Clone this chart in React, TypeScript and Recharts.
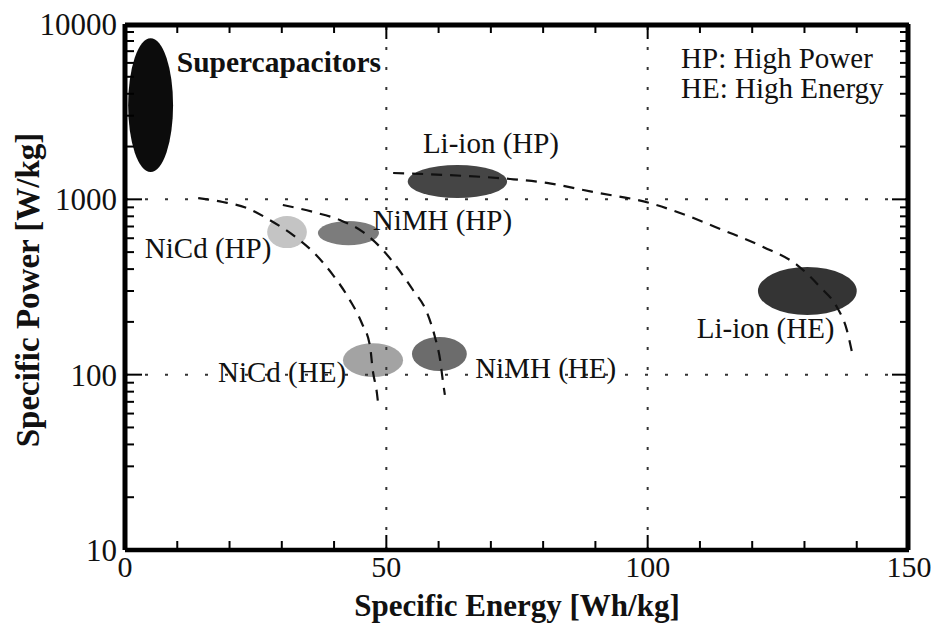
import {
  ComposedChart,
  Line,
  ReferenceArea,
  ReferenceDot,
  ReferenceLine,
  XAxis,
  YAxis
} from "recharts"

// Ragone plot: specific power vs specific energy of storage technologies.

const FONT = '"Liberation Serif", "Times New Roman", serif'
const INK = "#111"

// regions (ellipses) — energy in Wh/kg, power in W/kg
const cellNames = [
  "Supercapacitors",
  "NiCd (HP)",
  "NiMH (HP)",
  "Li-ion (HP)",
  "NiCd (HE)",
  "NiMH (HE)",
  "Li-ion (HE)"
]
const energyLow = [0.6, 27.2, 36.9, 54.1, 41.7, 54.9, 121.1]
const energyHigh = [9.2, 34.8, 48.6, 73.1, 53.2, 65.4, 140.0]
const powerLow = [1430, 527, 548, 1016, 97, 105, 219]
const powerHigh = [8300, 803, 752, 1571, 151, 164, 411]
const cellShades = ["#0c0c0c", "#c4c4c4", "#7c7c7c", "#454545", "#a3a3a3", "#6c6c6c", "#343434"]

// dashed trend curves
const nicdEnergy = [14.0, 18.7, 23.3, 27.7, 32.1, 36.0, 39.8, 43.0, 45.3, 46.9, 47.4, 48.2, 48.4]
const nicdPower = [1017, 966, 893, 762, 627, 501, 370, 267, 197, 144, 106, 78.5, 69.8]
const nimhEnergy = [30.2, 36.0, 41.1, 45.5, 48.8, 52.0, 55.1, 57.8, 59.3, 60.3, 60.8, 61.2]
const nimhPower = [929, 847, 762, 652, 535, 411, 304, 225, 164, 121, 93, 76.6]
const liionEnergy = [51.3, 61.6, 73.7, 80.7, 89.5, 100.4, 106.2, 114.4, 122.1, 128.6, 133.0, 136.2, 138.1, 139.1]
const liionPower = [1413, 1376, 1306, 1240, 1102, 953, 836, 668, 535, 422, 316, 243, 180, 134]

// text annotations (left edge, vertical centre) in data space
const noteText = [
  "Supercapacitors",
  "HP: High Power",
  "HE: High Energy",
  "Li-ion (HP)",
  "NiMH (HP)",
  "NiCd (HP)",
  "NiCd (HE)",
  "NiMH (HE)",
  "Li-ion (HE)"
]
const noteEnergy = [9.9, 106.4, 106.4, 57.0, 47.4, 3.8, 17.8, 67.0, 109.4]
const notePower = [6070, 6400, 4320, 2090, 762, 527, 103.5, 109, 185]

// axes
const xTicks = [0, 50, 100, 150]
const xMinorTicks = [10, 20, 30, 40, 60, 70, 80, 90, 110, 120, 130, 140]
const xMajorTicks = [50, 100]
const yTicks = [10, 100, 1000, 10000]
const yMinorTicks = [
  20, 30, 40, 50, 60, 70, 80, 90,
  200, 300, 400, 500, 600, 700, 800, 900,
  2000, 3000, 4000, 5000, 6000, 7000, 8000, 9000
]
const yMajorTicks = [100, 1000]

const toPoints = (xs: number[], ys: number[]) =>
  xs.map((energy, i) => ({ energy, power: ys[i] }))

const ellipseShape = (fill: string) => (props: any) => {
  const { x, y, width, height } = props
  return (
    <ellipse
      cx={x + width / 2}
      cy={y + height / 2}
      rx={Math.abs(width) / 2}
      ry={Math.abs(height) / 2}
      fill={fill}
    />
  )
}

const renderXTitle = (props: any) => {
  const vb = props.viewBox
  return (
    <text
      x={vb.x + vb.width / 2}
      y={vb.y + 66}
      textAnchor="middle"
      fontFamily={FONT}
      fontWeight="bold"
      fontSize={31}
      fill={INK}
    >
      Specific Energy [Wh/kg]
    </text>
  )
}

const renderYTitle = (props: any) => {
  const vb = props.viewBox
  const cx = vb.x + 27
  const cy = vb.y + vb.height / 2 + 3
  return (
    <text
      x={cx}
      y={cy}
      dy="0.35em"
      transform={`rotate(-90 ${cx} ${cy})`}
      textAnchor="middle"
      fontFamily={FONT}
      fontWeight="bold"
      fontSize={33}
      fill={INK}
    >
      Specific Power [W/kg]
    </text>
  )
}

const tickText = { fill: INK, fontSize: 30, fontFamily: FONT }
const frame = { stroke: "#000", strokeWidth: 5 }
const tickStroke = { stroke: "#000", strokeWidth: 2 }
const grid = { stroke: "#333", strokeWidth: 2, strokeDasharray: "3 17" }
const noLabel = () => <g />

export default function App() {
  return (
    <div style={{ position: "absolute", left: 0, top: 0, background: "#fff" }}>
      <ComposedChart
        width={934}
        height={623}
        margin={{ top: 24, right: 25, bottom: 0, left: 0 }}
      >
        {/* labelled axes */}
        <XAxis
          type="number"
          dataKey="energy"
          domain={[0, 150]}
          ticks={xTicks}
          interval={0}
          allowDataOverflow
          height={73}
          tickLine={false}
          tickSize={0}
          tickMargin={6}
          tick={tickText}
          axisLine={{ stroke: "#000", strokeWidth: 4.5 }}
          label={renderXTitle}
        />
        <YAxis
          type="number"
          scale="log"
          domain={[10, 10000]}
          ticks={yTicks}
          interval={0}
          allowDataOverflow
          width={125}
          tickLine={false}
          tickSize={0}
          tickMargin={8}
          tick={{ ...tickText, fontSize: 31 }}
          axisLine={frame}
          label={renderYTitle}
        />

        {/* inward tick marks and the rest of the frame */}
        <XAxis xAxisId="bMinor" dataKey="energy" type="number" domain={[0, 150]} allowDataOverflow
          ticks={xMinorTicks} interval={0} mirror height={1} tick={noLabel} tickSize={8}
          tickLine={tickStroke} axisLine={false} />
        <XAxis xAxisId="bMajor" dataKey="energy" type="number" domain={[0, 150]} allowDataOverflow
          ticks={xMajorTicks} interval={0} mirror height={1} tick={noLabel} tickSize={15}
          tickLine={tickStroke} axisLine={false} />
        <XAxis xAxisId="tMinor" dataKey="energy" orientation="top" type="number" domain={[0, 150]}
          allowDataOverflow ticks={xMinorTicks} interval={0} mirror height={1} tick={noLabel}
          tickSize={8} tickLine={tickStroke} axisLine={frame} />
        <XAxis xAxisId="tMajor" dataKey="energy" orientation="top" type="number" domain={[0, 150]}
          allowDataOverflow ticks={xMajorTicks} interval={0} mirror height={1} tick={noLabel}
          tickSize={15} tickLine={tickStroke} axisLine={false} />
        <YAxis yAxisId="lMinor" type="number" scale="log" domain={[10, 10000]} allowDataOverflow
          ticks={yMinorTicks} interval={0} mirror width={1} tick={noLabel} tickSize={8}
          tickLine={tickStroke} axisLine={false} />
        <YAxis yAxisId="lMajor" type="number" scale="log" domain={[10, 10000]} allowDataOverflow
          ticks={yMajorTicks} interval={0} mirror width={1} tick={noLabel} tickSize={17}
          tickLine={tickStroke} axisLine={false} />
        <YAxis yAxisId="rMinor" orientation="right" type="number" scale="log" domain={[10, 10000]}
          allowDataOverflow ticks={yMinorTicks} interval={0} mirror width={1} tick={noLabel}
          tickSize={8} tickLine={tickStroke} axisLine={frame} />
        <YAxis yAxisId="rMajor" orientation="right" type="number" scale="log" domain={[10, 10000]}
          allowDataOverflow ticks={yMajorTicks} interval={0} mirror width={1} tick={noLabel}
          tickSize={17} tickLine={tickStroke} axisLine={false} />

        {/* dotted grid */}
        <ReferenceLine x={50} {...grid} />
        <ReferenceLine x={100} {...grid} />
        <ReferenceLine y={100} {...grid} />
        <ReferenceLine y={1000} {...grid} />

        {cellNames.map((name, i) => (
          <ReferenceArea
            key={name}
            x1={energyLow[i]}
            x2={energyHigh[i]}
            y1={powerLow[i]}
            y2={powerHigh[i]}
            ifOverflow="visible"
            fill={cellShades[i]}
            shape={ellipseShape(cellShades[i])}
          />
        ))}

        <Line data={toPoints(nicdEnergy, nicdPower)} dataKey="power" type="monotone"
          stroke={INK} strokeWidth={2.2} strokeDasharray="11 8" dot={false} activeDot={false}
          isAnimationActive={false} />
        <Line data={toPoints(nimhEnergy, nimhPower)} dataKey="power" type="monotone"
          stroke={INK} strokeWidth={2.2} strokeDasharray="11 8" dot={false} activeDot={false}
          isAnimationActive={false} />
        <Line data={toPoints(liionEnergy, liionPower)} dataKey="power" type="monotone"
          stroke={INK} strokeWidth={2.2} strokeDasharray="11 8" dot={false} activeDot={false}
          isAnimationActive={false} />

        {noteText.map((text, i) => (
          <ReferenceDot
            key={text}
            x={noteEnergy[i]}
            y={notePower[i]}
            r={0}
            fill="none"
            stroke="none"
            label={{
              value: text,
              position: "right",
              offset: 0,
              fill: INK,
              fontSize: i === 0 ? 29.5 : 29,
              fontWeight: i === 0 ? "bold" : "normal",
              fontFamily: FONT
            }}
          />
        ))}
      </ComposedChart>
    </div>
  )
}
